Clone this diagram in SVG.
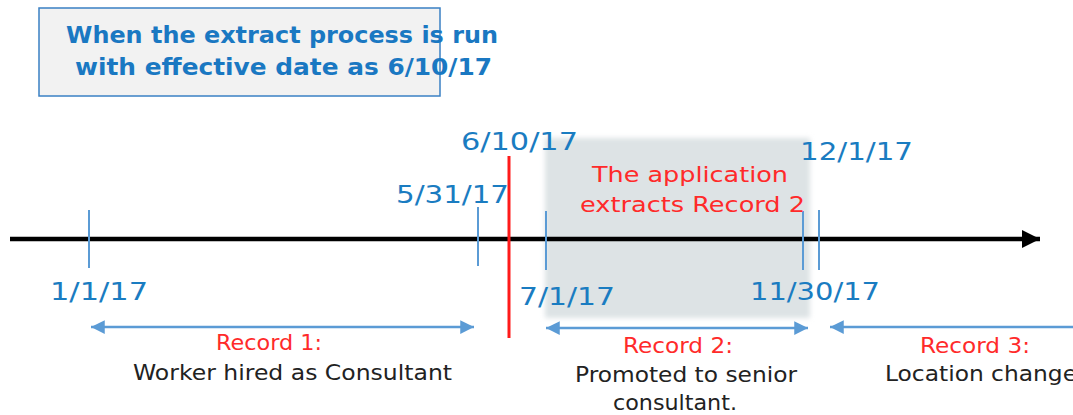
<svg xmlns="http://www.w3.org/2000/svg" width="1073" height="415" viewBox="0 0 1073 415">
<style>
.date{font-family:"DejaVu Sans",sans-serif;font-size:24px;fill:#1a7cc1}
.red{font-family:"DejaVu Sans",sans-serif;font-size:22px;fill:#ff2a2a}
.desc{font-family:"DejaVu Sans",sans-serif;font-size:21px;fill:#222}
.title{font-family:"DejaVu Sans",sans-serif;font-size:23px;font-weight:bold;fill:#1a78c2}
.tick{stroke:#5b9bd5;stroke-width:2}
.span{stroke:#5b9bd5;stroke-width:2.5;fill:none}
</style>
<defs>
<filter id="blur" x="-10%" y="-10%" width="120%" height="120%"><feGaussianBlur stdDeviation="2.5"/></filter>
<marker id="bh" viewBox="0 0 10 10" refX="10" refY="5" markerWidth="6" markerHeight="5.5" orient="auto-start-reverse" markerUnits="strokeWidth"><path d="M0,0 L10,5 L0,10 z" fill="#5b9bd5"/></marker>
<marker id="kh" viewBox="0 0 10 10" refX="10" refY="5" markerWidth="4.5" markerHeight="4" orient="auto" markerUnits="strokeWidth"><path d="M0,0 L10,5 L0,10 z" fill="#000"/></marker>
</defs>
<g id="extract-window">
<rect x="545" y="138" width="265" height="180" fill="#dde3e5" filter="url(#blur)"/>
</g>
<g id="title">
<rect x="39" y="8" width="401" height="88" fill="#f2f2f2" stroke="#3a80c4" stroke-width="1.5"/>
<text class="title" x="66" y="43" textLength="432" lengthAdjust="spacingAndGlyphs">When the extract process is run</text>
<text class="title" x="75" y="75" textLength="417" lengthAdjust="spacingAndGlyphs">with effective date as 6/10/17</text>
</g>
<g id="connectors">
<line x1="10" y1="239" x2="1040" y2="239" stroke="#000" stroke-width="4.5" marker-end="url(#kh)"/>
<line class="tick" x1="89" y1="210" x2="89" y2="268"/>
<line class="tick" x1="478" y1="207" x2="478" y2="266"/>
<line class="tick" x1="546" y1="211" x2="546" y2="270"/>
<line class="tick" x1="803" y1="211" x2="803" y2="270"/>
<line class="tick" x1="819" y1="210" x2="819" y2="270"/>
<line x1="509" y1="156" x2="509" y2="338" stroke="#ff1a1a" stroke-width="3"/>
<line class="span" x1="91" y1="327" x2="474" y2="327" marker-start="url(#bh)" marker-end="url(#bh)"/>
<line class="span" x1="546" y1="328" x2="808" y2="328" marker-start="url(#bh)" marker-end="url(#bh)"/>
<line class="span" x1="830" y1="327" x2="1075" y2="327" marker-start="url(#bh)"/>
</g>
<g id="dates">
<text class="date" x="461" y="150" textLength="117" lengthAdjust="spacingAndGlyphs">6/10/17</text>
<text class="date" x="396" y="203" textLength="113" lengthAdjust="spacingAndGlyphs">5/31/17</text>
<text class="date" x="50" y="300" textLength="98" lengthAdjust="spacingAndGlyphs">1/1/17</text>
<text class="date" x="519" y="305" textLength="96" lengthAdjust="spacingAndGlyphs">7/1/17</text>
<text class="date" x="750" y="300" textLength="130" lengthAdjust="spacingAndGlyphs">11/30/17</text>
<text class="date" x="800" y="160" textLength="113" lengthAdjust="spacingAndGlyphs">12/1/17</text>
</g>
<g id="extract-label">
<text class="red" x="592" y="182" textLength="196" lengthAdjust="spacingAndGlyphs">The application</text>
<text class="red" x="580" y="212" textLength="225" lengthAdjust="spacingAndGlyphs">extracts Record 2</text>
</g>
<g id="record1">
<text class="red" x="216" y="350" textLength="106" lengthAdjust="spacingAndGlyphs">Record 1:</text>
<text class="desc" x="133" y="380" textLength="319" lengthAdjust="spacingAndGlyphs">Worker hired as Consultant</text>
</g>
<g id="record2">
<text class="red" x="623" y="353" textLength="110" lengthAdjust="spacingAndGlyphs">Record 2:</text>
<text class="desc" x="575" y="382" textLength="222" lengthAdjust="spacingAndGlyphs">Promoted to senior</text>
<text class="desc" x="613" y="410" textLength="124" lengthAdjust="spacingAndGlyphs">consultant.</text>
</g>
<g id="record3">
<text class="red" x="920" y="353" textLength="110" lengthAdjust="spacingAndGlyphs">Record 3:</text>
<text class="desc" x="885" y="381" textLength="192" lengthAdjust="spacingAndGlyphs">Location change</text>
</g>
</svg>
